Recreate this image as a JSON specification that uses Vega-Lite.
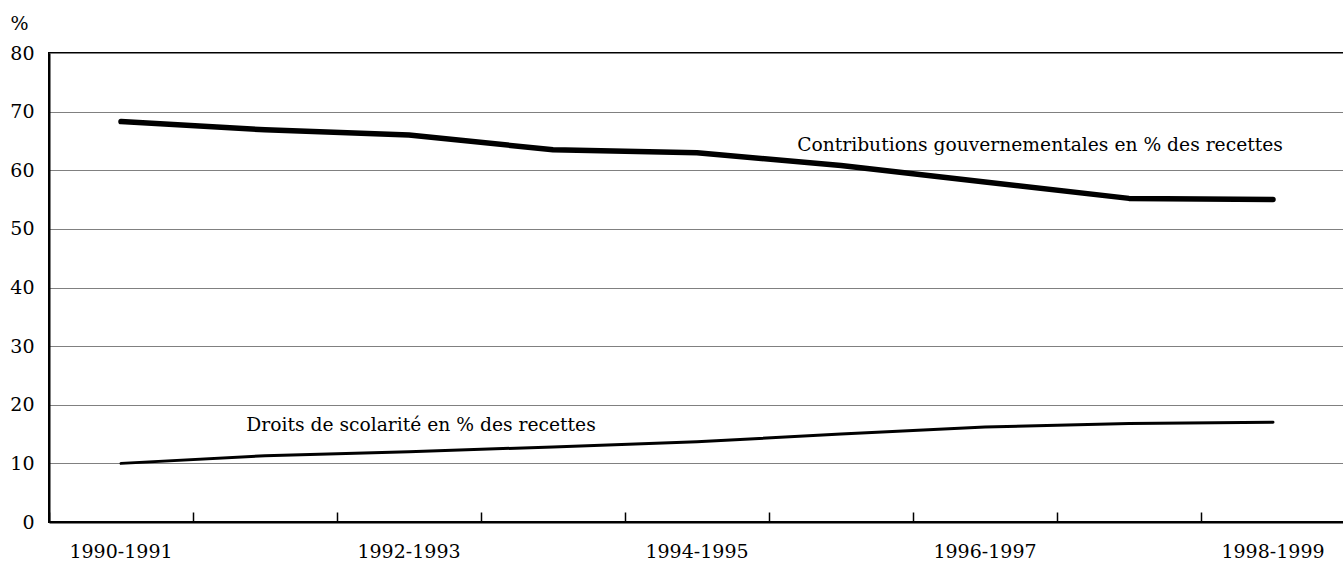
{
  "$schema": "https://vega.github.io/schema/vega-lite/v6.json",
  "autosize": "none",
  "width": 1296,
  "height": 469,
  "padding": {"left": 49, "top": 53, "right": 0, "bottom": 43},
  "background": "white",
  "config": {
    "font": "DejaVu Serif",
    "axis": {"labelFont": "DejaVu Serif", "titleFont": "DejaVu Serif"},
    "view": {"stroke": "black", "strokeWidth": 2}
  },
  "datasets": {
    "series": [
      {"year": "1990-1991", "serie": "gouv", "value": 68.3},
      {"year": "1991-1992", "serie": "gouv", "value": 66.9},
      {"year": "1992-1993", "serie": "gouv", "value": 66.0},
      {"year": "1993-1994", "serie": "gouv", "value": 63.5},
      {"year": "1994-1995", "serie": "gouv", "value": 63.0},
      {"year": "1995-1996", "serie": "gouv", "value": 60.8},
      {"year": "1996-1997", "serie": "gouv", "value": 58.0},
      {"year": "1997-1998", "serie": "gouv", "value": 55.2},
      {"year": "1998-1999", "serie": "gouv", "value": 55.0},
      {"year": "1990-1991", "serie": "droits", "value": 10.0},
      {"year": "1991-1992", "serie": "droits", "value": 11.3},
      {"year": "1992-1993", "serie": "droits", "value": 12.0},
      {"year": "1993-1994", "serie": "droits", "value": 12.8},
      {"year": "1994-1995", "serie": "droits", "value": 13.7},
      {"year": "1995-1996", "serie": "droits", "value": 15.0},
      {"year": "1996-1997", "serie": "droits", "value": 16.2},
      {"year": "1997-1998", "serie": "droits", "value": 16.8},
      {"year": "1998-1999", "serie": "droits", "value": 17.0}
    ],
    "labels": [
      {"year": "1996-1997", "value": 64.3, "label": "Contributions gouvernementales en % des recettes", "pos": "gouv"},
      {"year": "1992-1993", "value": 16.5, "label": "Droits de scolarité en % des recettes", "pos": "droits"}
    ]
  },
  "layer": [
    {
      "data": {"name": "series"},
      "mark": {"type": "line", "color": "black", "strokeCap": "round", "strokeJoin": "round"},
      "encoding": {
        "x": {
          "field": "year", "type": "ordinal",
          "scale": {"type": "band", "paddingInner": 0, "paddingOuter": 0},
          "axis": {
            "title": null,
            "bandPosition": 0,
            "labelAngle": 0,
            "labelExpr": "indexof(['1990-1991','1992-1993','1994-1995','1996-1997','1998-1999'], datum.value) >= 0 ? datum.label : ''",
            "labelFontSize": 19,
            "labelColor": "black",
            "labelPadding": 30,
            "domainColor": "black",
            "domainWidth": 2,
            "tickColor": "black",
            "tickWidth": 1.5,
            "tickSize": -10,
            "grid": false
          }
        },
        "y": {
          "field": "value", "type": "quantitative",
          "scale": {"domain": [0, 80]},
          "axis": {
            "title": "%",
            "titleAngle": 0,
            "titleFontSize": 19,
            "titleFontWeight": "normal",
            "titleColor": "black",
            "titleX": -39,
            "titleY": -30,
            "titleAlign": "left",
            "titleBaseline": "middle",
            "values": [0, 10, 20, 30, 40, 50, 60, 70, 80],
            "labelFontSize": 19,
            "labelColor": "black",
            "labelPadding": 15,
            "ticks": false,
            "domainColor": "black",
            "domainWidth": 2,
            "grid": true,
            "gridColor": "#808080",
            "gridWidth": 1
          }
        },
        "detail": {"field": "serie"},
        "strokeWidth": {
          "field": "serie", "type": "nominal",
          "scale": {"domain": ["gouv", "droits"], "range": [5.5, 3]},
          "legend": null
        }
      }
    },
    {
      "data": {"name": "labels"},
      "transform": [{"filter": "datum.pos == 'gouv'"}],
      "mark": {"type": "text", "font": "DejaVu Serif", "fontSize": 18.7, "color": "black", "baseline": "middle", "align": "center", "dx": 55},
      "encoding": {
        "x": {"field": "year", "type": "ordinal"},
        "y": {"field": "value", "type": "quantitative"},
        "text": {"field": "label"}
      }
    },
    {
      "data": {"name": "labels"},
      "transform": [{"filter": "datum.pos == 'droits'"}],
      "mark": {"type": "text", "font": "DejaVu Serif", "fontSize": 18.7, "color": "black", "baseline": "middle", "align": "center", "dx": 12},
      "encoding": {
        "x": {"field": "year", "type": "ordinal"},
        "y": {"field": "value", "type": "quantitative"},
        "text": {"field": "label"}
      }
    }
  ]
}
